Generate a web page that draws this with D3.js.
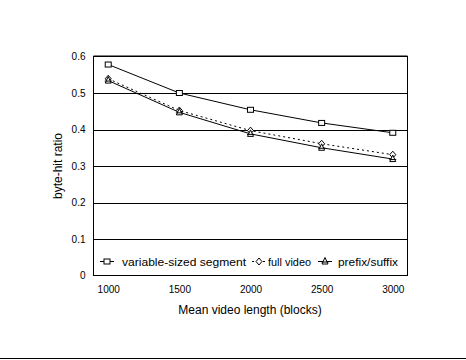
<!DOCTYPE html>
<html><head><meta charset="utf-8">
<script src="https://cdn.jsdelivr.net/npm/d3@7"></script>
<style>body{margin:0;background:#fff}svg{display:block}text{font-family:"Liberation Sans",Arial,sans-serif;fill:#000}</style>
</head><body><svg id="c" width="466" height="360"></svg>
<script>
const categories = ["1000","1500","2000","2500","3000"];
const variableSized = [0.578, 0.500, 0.454, 0.418, 0.391];
const fullVideo = [0.539, 0.452, 0.397, 0.361, 0.331];
const prefixSuffix = [0.534, 0.447, 0.388, 0.350, 0.319];
const yTicks = [0, 0.1, 0.2, 0.3, 0.4, 0.5, 0.6];
const seriesNames = ["variable-sized segment", "full video", "prefix/suffix"];

const svg = d3.select("#c");
const L = 93.5, R = 407.5, T = 56.5, B = 275.5;
const x = d3.scalePoint().domain(categories).range([L, R]).padding(0.207);
const y = d3.scaleLinear().domain([0, 0.6]).range([B, T]);

// gridlines
svg.append("g").selectAll("line").data(yTicks.filter(d => d > 0 && d < 0.6)).join("line")
  .attr("x1", L).attr("x2", R).attr("y1", d => Math.round(y(d)) + 0.5).attr("y2", d => Math.round(y(d)) + 0.5)
  .attr("stroke", "#000").attr("stroke-width", 1);

// frame
svg.append("rect").attr("x", L).attr("y", T).attr("width", R - L).attr("height", B - T)
  .attr("fill", "none").attr("stroke", "#000").attr("stroke-width", 1);
svg.append("line").attr("x1", L).attr("x2", R).attr("y1", T - 0.5).attr("y2", T - 0.5).attr("stroke", "#000");

// y axis labels
const yAxis = d3.axisLeft(y).tickValues(yTicks).tickSize(0).tickPadding(8)
  .tickFormat(d => d === 0 ? "0" : d3.format(".1f")(d));
const yg = svg.append("g").attr("transform", `translate(${L},0)`).call(yAxis);
yg.select(".domain").remove();
yg.selectAll("text").style("font-size", "10px").style("font-family", '"Liberation Sans",Arial,sans-serif');

// x axis labels
const xAxis = d3.axisBottom(x).tickSize(0).tickPadding(10);
const xg = svg.append("g").attr("transform", `translate(0,${B})`).call(xAxis);
xg.select(".domain").remove();
xg.selectAll("text").style("font-size", "10px").style("font-family", '"Liberation Sans",Arial,sans-serif');

// titles
svg.append("text").attr("x", 250).attr("y", 314).attr("text-anchor", "middle")
  .style("font-size", "12px").text("Mean video length (blocks)");
svg.append("text").attr("transform", `translate(61.5,${(T + B) / 2}) rotate(-90)`).attr("text-anchor", "middle")
  .style("font-size", "12px").text("byte-hit ratio");

// bottom rule
svg.append("line").attr("x1", 0).attr("x2", 466).attr("y1", 358.5).attr("y2", 358.5).attr("stroke", "#000");

const line = d3.line().x((d, i) => x(categories[i])).y(d => y(d));
const dashes = [null, "2,3", null];
const allSeries = [variableSized, fullVideo, prefixSuffix];

function marker(g, type, cx, cy) {
  if (type === 0) {
    g.append("rect").attr("x", cx - 3).attr("y", cy - 2.5).attr("width", 6).attr("height", 5)
      .attr("fill", "#fff").attr("stroke", "#000");
  } else if (type === 1) {
    g.append("path").attr("d", `M${cx},${cy - 3.5}L${cx + 3},${cy}L${cx},${cy + 3.5}L${cx - 3},${cy}Z`)
      .attr("fill", "#fff").attr("stroke", "#000");
  } else {
    g.append("path").attr("d", `M${cx},${cy - 4}L${cx + 3},${cy + 2.5}L${cx - 3},${cy + 2.5}Z`)
      .attr("fill", "#fff").attr("stroke", "#000");
    g.append("line").attr("x1", cx - 3.5).attr("x2", cx + 3.5).attr("y1", cy + 0.5).attr("y2", cy + 0.5).attr("stroke", "#000");
  }
}

allSeries.forEach((s, k) => {
  svg.append("path").datum(s).attr("d", line).attr("fill", "none").attr("stroke", "#000")
    .attr("stroke-width", 1).attr("stroke-dasharray", dashes[k]);
});
allSeries.forEach((s, k) => {
  const g = svg.append("g");
  s.forEach((v, i) => marker(g, k, x(categories[i]), y(v)));
});

// legend
const legX = [100, 252, 318];
const legText = [122, 268, 338];
const legW = [124, 43, 60];
const lg = svg.append("g");
seriesNames.forEach((n, k) => {
  const ly = 261.5;
  lg.append("line").attr("x1", legX[k]).attr("x2", legX[k] + 14).attr("y1", ly).attr("y2", ly)
    .attr("stroke", "#000").attr("stroke-dasharray", k === 1 ? "2,3.5" : null);
  marker(lg, k, legX[k] + 7, ly);
  lg.append("text").attr("x", legText[k]).attr("y", ly + 4).style("font-size", "11.5px")
    .attr("textLength", legW[k]).attr("lengthAdjust", "spacingAndGlyphs").text(n);
});
</script></body></html>
